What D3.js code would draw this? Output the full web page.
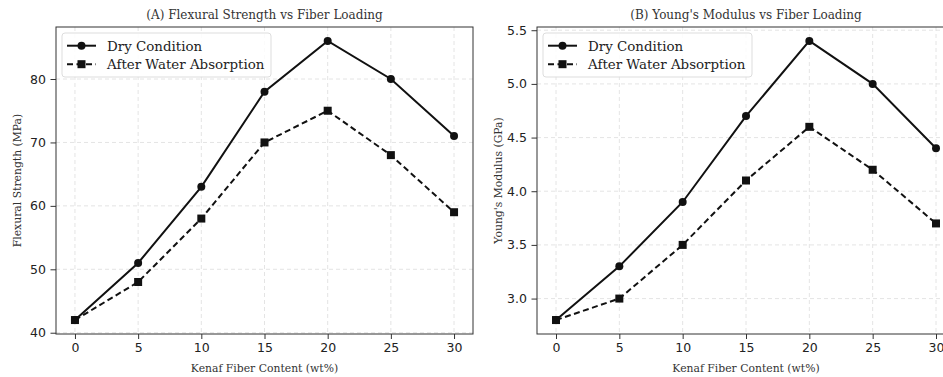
<!DOCTYPE html>
<html>
<head>
<meta charset="utf-8">
<script src="https://cdn.jsdelivr.net/npm/d3@7"></script>
<style>
  body { margin: 0; background: #fff; overflow: hidden; }
  svg { display: block; }
</style>
</head>
<body>
<svg id="chart" width="943" height="377"></svg>
<script>
// fiber loading (wt%)
var fiberContent = [0, 5, 10, 15, 20, 25, 30];

// panel A: flexural strength (MPa)
var flexDry = [42, 51, 63, 78, 86, 80, 71];
var flexWet = [42, 48, 58, 70, 75, 68, 59];

// panel B: young's modulus (GPa)
var modDry = [2.8, 3.3, 3.9, 4.7, 5.4, 5.0, 4.4];
var modWet = [2.8, 3.0, 3.5, 4.1, 4.6, 4.2, 3.7];

var xTicks = [0, 5, 10, 15, 20, 25, 30];
var flexTicks = [40, 50, 60, 70, 80];
var modTicks = [3.0, 3.5, 4.0, 4.5, 5.0, 5.5];

var seriesNames = ['Dry Condition', 'After Water Absorption'];

const svg = d3.select('#chart');
const serif = "'DejaVu Serif', serif";
const sans = "'DejaVu Sans', sans-serif";

// matplotlib style 5% padding
function padded(vals) {
    let lo = d3.min(vals), hi = d3.max(vals), m = (hi - lo) * 0.05;
    return [lo - m, hi + m];
}

function drawPanel(opts) {
    const left = opts.left, top = 27, w = opts.width, h = 307;
    const g = svg.append('g').attr('transform', `translate(${left},${top})`);

    let x = d3.scaleLinear().domain(padded(fiberContent)).range([0, w]);
    let y = d3.scaleLinear().domain(padded(opts.dry.concat(opts.wet))).range([h, 0]);

    // grid
    g.append('g').selectAll('line').data(xTicks).enter().append('line')
        .attr('x1', d => x(d)).attr('x2', d => x(d))
        .attr('y1', 0).attr('y2', h)
        .attr('stroke', '#ddd').attr('stroke-width', 0.8).attr('stroke-dasharray', '4,3');
    g.append('g').selectAll('line').data(opts.yTicks).enter().append('line')
        .attr('x1', 0).attr('x2', w)
        .attr('y1', d => y(d)).attr('y2', d => y(d))
        .attr('stroke', '#ddd').attr('stroke-width', 0.8).attr('stroke-dasharray', '4,3');

    // axes
    let xAxis = g.append('g').attr('transform', `translate(0,${h})`)
        .call(d3.axisBottom(x).tickValues(xTicks).tickSize(5).tickPadding(4).tickFormat(d3.format('d')));
    let yAxis = g.append('g')
        .call(d3.axisLeft(y).tickValues(opts.yTicks).tickSize(5.5).tickPadding(4.5).tickFormat(opts.fmt));
    [xAxis, yAxis].forEach(a => {
        a.select('.domain').remove();
        a.selectAll('line').attr('stroke', '#333');
        a.selectAll('text').attr('font-family', sans).attr('font-size', 12.5).attr('fill', '#222');
    });

    // frame
    g.append('rect').attr('x', 0).attr('y', 0).attr('width', w).attr('height', h)
        .attr('fill', 'none').attr('stroke', '#333').attr('stroke-width', 1);

    // lines
    let line = d3.line().x((d, i) => x(fiberContent[i])).y(d => y(d));
    g.append('path').datum(opts.wet).attr('d', line)
        .attr('fill', 'none').attr('stroke', '#111').attr('stroke-width', 2).attr('stroke-dasharray', '6,3.5');
    g.append('path').datum(opts.dry).attr('d', line)
        .attr('fill', 'none').attr('stroke', '#111').attr('stroke-width', 2);

    g.append('g').selectAll('circle').data(opts.dry).enter().append('circle')
        .attr('cx', (d, i) => x(fiberContent[i])).attr('cy', d => y(d)).attr('r', 4)
        .attr('fill', '#111');
    g.append('g').selectAll('rect').data(opts.wet).enter().append('rect')
        .attr('x', (d, i) => x(fiberContent[i]) - 4).attr('y', d => y(d) - 4)
        .attr('width', 8).attr('height', 8).attr('fill', '#111');

    // title + labels
    svg.append('text').attr('x', left + w / 2).attr('y', 19).attr('text-anchor', 'middle')
        .attr('font-family', serif).attr('font-size', 12).attr('fill', '#333').text(opts.title);
    svg.append('text').attr('x', left + w / 2).attr('y', 372).attr('text-anchor', 'middle')
        .attr('font-family', serif).attr('font-size', 10.8).attr('fill', '#333').text('Kenaf Fiber Content (wt%)');
    svg.append('text').attr('transform', `translate(${left - 35},${top + h / 2}) rotate(-90)`)
        .attr('text-anchor', 'middle').attr('font-family', serif).attr('font-size', 10.8)
        .attr('fill', '#333').text(opts.ylabel);

    // legend
    let lg = g.append('g').attr('transform', 'translate(6,6)');
    lg.append('rect').attr('width', 209).attr('height', 44).attr('rx', 3)
        .attr('fill', '#fff').attr('fill-opacity', 0.85).attr('stroke', '#ddd');
    seriesNames.forEach((name, i) => {
        let yy = 12.7 + i * 18.5;
        lg.append('line').attr('x1', 5).attr('x2', 34).attr('y1', yy).attr('y2', yy)
            .attr('stroke', '#111').attr('stroke-width', 2)
            .attr('stroke-dasharray', i ? '6,3.5' : null);
        if (i === 0) lg.append('circle').attr('cx', 19.5).attr('cy', yy).attr('r', 4).attr('fill', '#111');
        else lg.append('rect').attr('x', 15.5).attr('y', yy - 4).attr('width', 8).attr('height', 8).attr('fill', '#111');
        lg.append('text').attr('x', 45).attr('y', yy + 4.8)
            .attr('font-family', serif).attr('font-size', 13.4).attr('fill', '#222').text(name);
    });
}

drawPanel({
    left: 56, width: 417,
    dry: flexDry, wet: flexWet, yTicks: flexTicks, fmt: d3.format('d'),
    title: '(A) Flexural Strength vs Fiber Loading',
    ylabel: 'Flexural Strength (MPa)'
});

drawPanel({
    left: 537, width: 418,
    dry: modDry, wet: modWet, yTicks: modTicks, fmt: d3.format('.1f'),
    title: "(B) Young's Modulus vs Fiber Loading",
    ylabel: "Young's Modulus (GPa)"
});
</script>
</body>
</html>
